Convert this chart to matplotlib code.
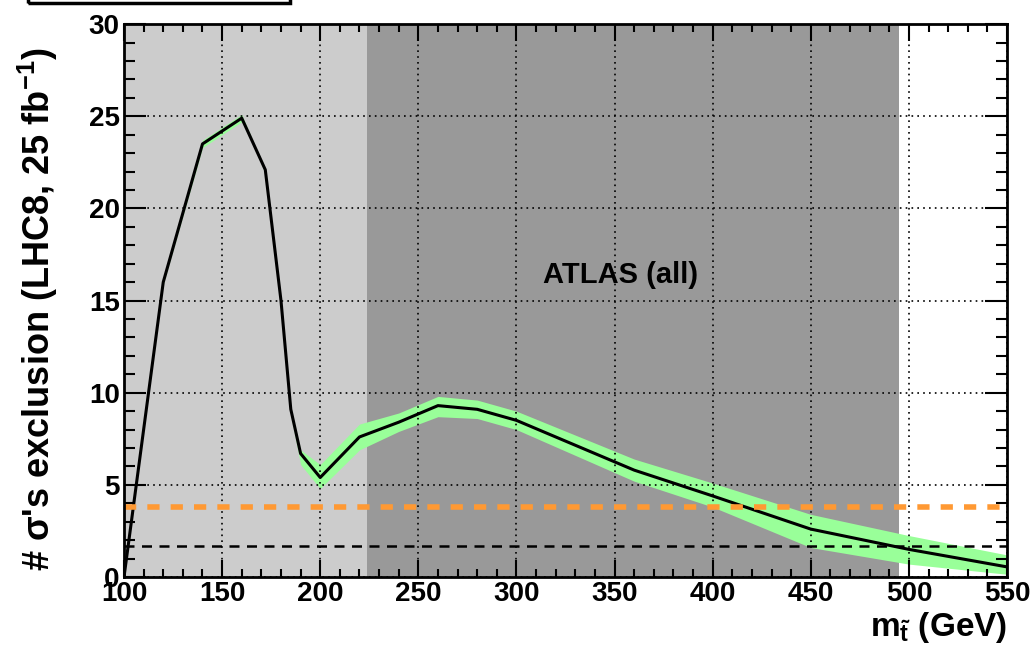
import matplotlib
matplotlib.use('Agg')
import matplotlib.pyplot as plt
from matplotlib.patches import Rectangle
from matplotlib.ticker import MultipleLocator

plt.rcParams['font.family'] = ['Liberation Sans', 'DejaVu Sans']
plt.rcParams['font.weight'] = 'bold'
plt.rcParams['mathtext.fontset'] = 'custom'
plt.rcParams['mathtext.rm'] = 'Liberation Sans:bold'
plt.rcParams['mathtext.it'] = 'Liberation Sans:bold'
plt.rcParams['mathtext.bf'] = 'Liberation Sans:bold'

# stop mass (GeV) and number of sigmas
mass = [100, 120, 140, 160, 166, 172, 180, 185, 190, 200, 220, 240, 260, 280, 300, 360, 400, 450, 500, 550]
nsig = [0, 16, 23.5, 24.9, 23.5, 22.1, 15.0, 9.1, 6.7, 5.4, 7.6, 8.4, 9.3, 9.1, 8.5, 5.8, 4.4, 2.6, 1.5, 0.55]
nsig_up = [0, 16.1, 23.7, 25.1, 23.6, 22.2, 15.1, 9.2, 6.9, 6.1, 8.3, 8.9, 9.8, 9.6, 9.0, 6.4, 5.1, 3.4, 2.25, 1.2]
nsig_lo = [0, 15.9, 23.3, 24.7, 23.4, 21.9, 14.9, 8.8, 6.1, 4.8, 6.9, 7.9, 8.7, 8.6, 8.0, 5.2, 3.8, 1.6, 0.7, 0.15]

light_region = (100, 224)
atlas_region = (224, 495)
line_orange = 3.8
line_black = 1.7

fig = plt.figure(figsize=(10.36, 6.52), dpi=100)
ax = fig.add_axes([0.1197, 0.115, 0.8523, 0.848])

ax.axvspan(*light_region, color='#cccccc', lw=0, zorder=0)
ax.axvspan(*atlas_region, color='#999999', lw=0, zorder=0)

ax.fill_between(mass, nsig_lo, nsig_up, color='#99ff99', lw=0, zorder=2)
ax.plot(mass, nsig, color='black', lw=2.2, zorder=3)

ax.axhline(line_orange, color='#ff9933', lw=4, ls=(0, (2.2, 2.0)), zorder=3)
ax.axhline(line_black, color='black', lw=1.8, ls=(0, (4, 3)), zorder=3)

ax.text(353, 16.4, 'ATLAS (all)', fontsize=21, fontweight='bold', ha='center', va='center')

ax.set_xlim(100, 550)
ax.set_ylim(0, 30)
ax.xaxis.set_major_locator(MultipleLocator(50))
ax.xaxis.set_minor_locator(MultipleLocator(10))
ax.yaxis.set_major_locator(MultipleLocator(5))
ax.yaxis.set_minor_locator(MultipleLocator(1))
ax.grid(True, which='major', color='black', ls=(0, (1, 2.5)), lw=1.2, zorder=1)
ax.set_axisbelow(False)

ax.tick_params(which='both', direction='in', top=True, right=True, labelsize=20, width=1.5, pad=3)
ax.tick_params(axis='y', which='major', length=16)
ax.tick_params(axis='y', which='minor', length=8)
ax.tick_params(axis='x', which='major', length=12)
ax.tick_params(axis='x', which='minor', length=6)
for s in ax.spines.values():
    s.set_linewidth(2)
    s.set_zorder(5)

ax.set_ylabel("# $\\sigma$'s exclusion (LHC8, 25 fb$^{-1}$)", fontsize=26, fontweight='bold')
ax.yaxis.set_label_coords(-0.072, 0.485)
ax.set_xlabel('m$_{\\tilde{t}}$ (GeV)', fontsize=24, fontweight='bold', loc='right', labelpad=2)

# partially visible box at top-left
fig.patches.append(Rectangle((28 / 1036, 1 - 3 / 652), 262 / 1036, 0.1, transform=fig.transFigure,
                             fill=False, edgecolor='black', lw=2.5))

fig.savefig('out.png', dpi=100)
